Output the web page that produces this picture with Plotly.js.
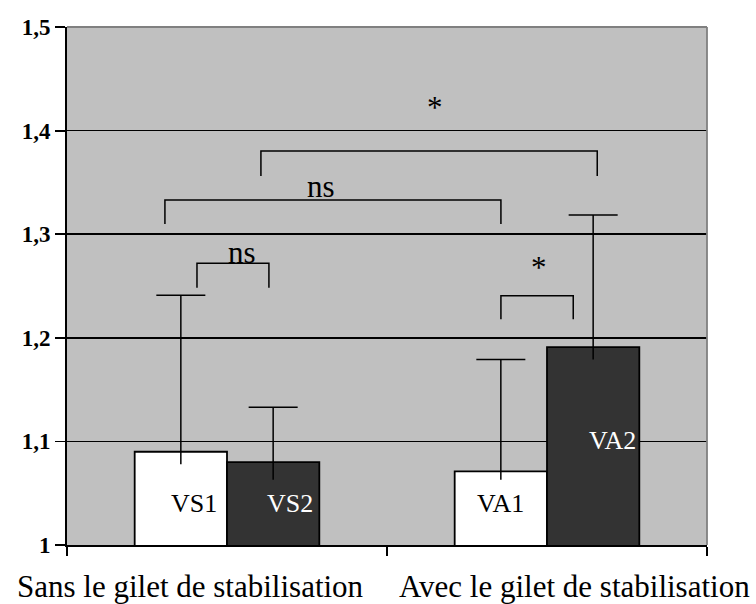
<!DOCTYPE html>
<html>
<head>
<meta charset="utf-8">
<script src="https://cdn.plot.ly/plotly-3.0.1.min.js"></script>
<style>html,body{margin:0;padding:0;background:#fff}#chart{width:756px;height:604px}</style>
</head>
<body>
<div id="chart"></div>
<script>
// ---- data ----
var groups = ['Sans le gilet de stabilisation', 'Avec le gilet de stabilisation'];
var labels1 = ['VS1', 'VA1'];
var labels2 = ['VS2', 'VA2'];
var values1 = [1.090, 1.071];
var values2 = [1.080, 1.191];
var errHigh1 = [1.241, 1.179];
var errHigh2 = [1.133, 1.3185];
var errLow1 = [1.078, 1.063];
var errLow2 = [1.063, 1.179];
var sigLabels = ['ns', 'ns', '*', '*'];

// ---- layout constants ----
var bargap = 0.423;
var barW = (1 - bargap) / 2;
var offs = [-barW / 2, barW / 2];
var capHalf = 0.0766;
var serif = 'Liberation Serif';

function errLine(lows, highs, off) {
  var xs = [], ys = [];
  for (var i = 0; i < groups.length; i++) {
    var x = i + off;
    xs.push(x, x, null, x - capHalf, x + capHalf, null);
    ys.push(lows[i], highs[i], null, highs[i], highs[i], null);
  }
  return {type: 'scatter', mode: 'lines', x: xs, y: ys, xaxis: 'x2', yaxis: 'y',
          line: {color: '#000', width: 1.5}, hoverinfo: 'skip', showlegend: false, cliponaxis: false};
}

var traces = [
  {type: 'bar', x: groups, y: values1, marker: {color: '#ffffff', line: {color: '#000', width: 1.8}}, showlegend: false},
  {type: 'bar', x: groups, y: values2, marker: {color: '#333333', line: {color: '#000', width: 1.8}}, showlegend: false},
  errLine(errLow1, errHigh1, offs[0]),
  errLine(errLow2, errHigh2, offs[1])
];

// brackets: [x0, x1, yTop, yLegBottom]
var brackets = [
  [-0.0938, 0.131, 1.2719, 1.2484],
  [-0.194, 0.856, 1.333, 1.3098],
  [0.106, 1.157, 1.3803, 1.3562],
  [0.856, 1.082, 1.2406, 1.2179]
];
var sigPos = [[0.047, 1.2823], [0.293, 1.3458], [0.65, 1.4223], [0.976, 1.2683]];
var shapes = brackets.map(function (b) {
  return {type: 'path', xref: 'x2', yref: 'y',
          path: 'M' + b[0] + ',' + b[3] + ' L' + b[0] + ',' + b[2] + ' L' + b[1] + ',' + b[2] + ' L' + b[1] + ',' + b[3],
          line: {color: '#000', width: 1.5}};
});
// top & right plot border (gray)
shapes.push({type: 'line', xref: 'paper', yref: 'paper', x0: 0, x1: 1, y0: 1, y1: 1, line: {color: '#808080', width: 1.8}});
shapes.push({type: 'line', xref: 'paper', yref: 'paper', x0: 1, x1: 1, y0: 0, y1: 1, line: {color: '#808080', width: 1.8}});

var annotations = [];
sigLabels.forEach(function (t, i) {
  annotations.push({xref: 'x2', yref: 'y', x: sigPos[i][0], y: sigPos[i][1], text: t, showarrow: false,
                    xanchor: 'center', yanchor: 'middle', font: {family: serif, size: 31, color: '#000'}});
});
// bar labels
var barLabelPos = [[-0.103, 1.0396], [0.856, 1.0396], [0.198, 1.0396], [1.206, 1.1013]];
var allLabels = labels1.concat(labels2);
var labelColors = ['#000', '#000', '#fff', '#fff'];
allLabels.forEach(function (t, i) {
  annotations.push({xref: 'x2', yref: 'y', x: barLabelPos[i][0], y: barLabelPos[i][1], text: t, showarrow: false,
                    xanchor: 'center', yanchor: 'middle', font: {family: serif, size: 26, color: labelColors[i]}});
});
// category labels
annotations.push({xref: 'paper', yref: 'paper', x: (15 - 67) / 640, y: -0.081, text: groups[0], showarrow: false,
                  xanchor: 'left', yanchor: 'middle', font: {family: serif, size: 31, color: '#000'}});
annotations.push({xref: 'paper', yref: 'paper', x: (752 - 67) / 640, y: -0.081, text: groups[1], showarrow: false,
                  xanchor: 'right', yanchor: 'middle', font: {family: serif, size: 31, color: '#000'}});

var layout = {
  width: 756, height: 604,
  margin: {l: 67, r: 49, t: 27, b: 59},
  paper_bgcolor: '#ffffff',
  plot_bgcolor: '#c0c0c0',
  separators: ', ',
  barmode: 'group',
  bargap: bargap,
  bargroupgap: 0,
  showlegend: false,
  xaxis: {type: 'category', range: [-0.5, 1.5], tickson: 'boundaries', ticks: 'outside', ticklen: 9,
          tickwidth: 1.8, tickcolor: '#000', showticklabels: false, showgrid: false, zeroline: false,
          showline: true, linecolor: '#000', linewidth: 2, fixedrange: true},
  xaxis2: {overlaying: 'x', range: [-0.5, 1.5], visible: false, fixedrange: true},
  yaxis: {range: [1, 1.5], dtick: 0.1, tick0: 1, ticks: 'outside', ticklen: 10, tickwidth: 1.8, tickcolor: '#000',
          showgrid: true, gridcolor: '#000', gridwidth: 1.5, zeroline: false,
          showline: true, linecolor: '#000', linewidth: 2,
          tickfont: {family: serif, size: 23, color: '#000', weight: 'bold'}, fixedrange: true},
  shapes: shapes,
  annotations: annotations,
  font: {family: serif, color: '#000'}
};

Plotly.newPlot('chart', traces, layout, {displayModeBar: false, staticPlot: true});
</script>
</body>
</html>
